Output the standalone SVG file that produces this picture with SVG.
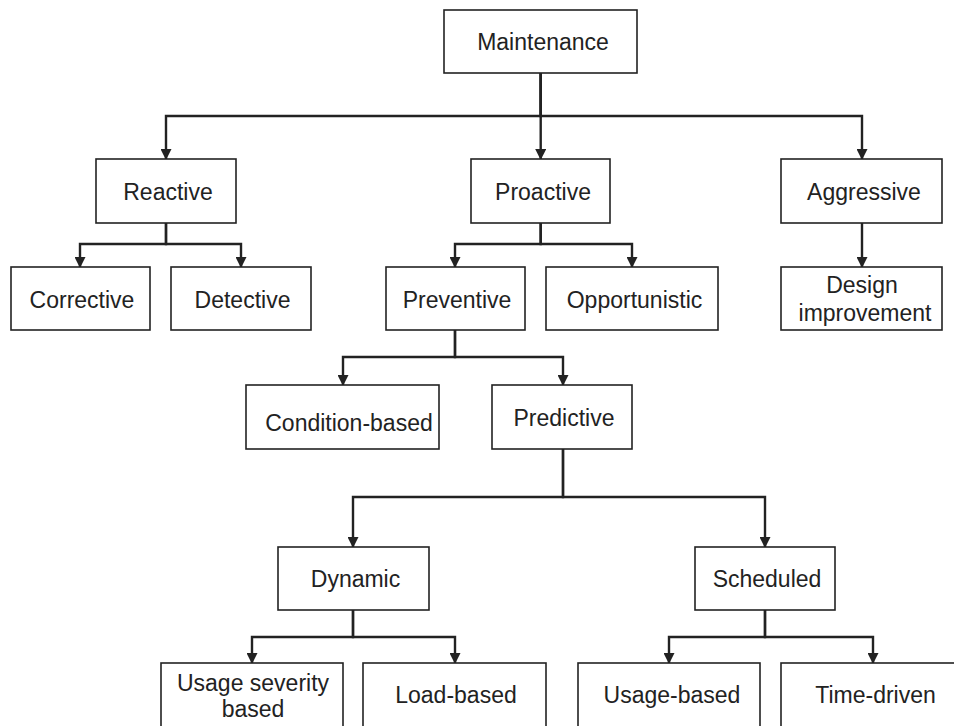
<svg xmlns="http://www.w3.org/2000/svg" width="954" height="726" viewBox="0 0 954 726">
<style>
.box rect{fill:#fff;stroke:#222;stroke-width:1.6}
.box text{font-family:"Liberation Sans",Arial,sans-serif;font-size:23px;fill:#222;text-anchor:middle}
.conn path{fill:none;stroke:#222;stroke-width:2.4;marker-end:url(#arr)}
</style>
<defs>
<marker id="arr" markerUnits="userSpaceOnUse" markerWidth="11" markerHeight="11" viewBox="0 -5.5 11 11" refX="10" refY="0" orient="auto">
<path d="M0,-5.5 L11,0 L0,5.5 z" fill="#222"/>
</marker>
</defs>
<rect width="954" height="726" fill="#fff"/>
<g class="conn">
<path d="M540.7,73 V116 H166 V159"/>
<path d="M540.7,73 V159"/>
<path d="M540.7,73 V116 H862 V159"/>
<path d="M166,223 V244 H80 V267"/>
<path d="M166,223 V244 H241 V267"/>
<path d="M540.7,223 V244 H455 V267"/>
<path d="M540.7,223 V244 H632 V267"/>
<path d="M862,223 V267"/>
<path d="M455,330 V357 H343 V385"/>
<path d="M455,330 V357 H563 V385"/>
<path d="M563,449 V497 H353 V547"/>
<path d="M563,449 V497 H765 V547"/>
<path d="M353,610 V637 H252 V663"/>
<path d="M353,610 V637 H455 V663"/>
<path d="M765,610 V637 H669 V663"/>
<path d="M765,610 V637 H873 V663"/>
</g>
<g id="maintenance" class="box"><rect x="444" y="10" width="193" height="63"/><text x="543" y="50">Maintenance</text></g>
<g id="reactive" class="box"><rect x="96" y="159" width="140" height="64"/><text x="168" y="200">Reactive</text></g>
<g id="proactive" class="box"><rect x="471" y="159" width="139" height="64"/><text x="543" y="200">Proactive</text></g>
<g id="aggressive" class="box"><rect x="781" y="159" width="161" height="64"/><text x="864" y="200">Aggressive</text></g>
<g id="corrective" class="box"><rect x="11" y="267" width="139" height="63"/><text x="82" y="308">Corrective</text></g>
<g id="detective" class="box"><rect x="171" y="267" width="140" height="63"/><text x="242.5" y="308">Detective</text></g>
<g id="preventive" class="box"><rect x="386" y="267" width="139" height="63"/><text x="457" y="308">Preventive</text></g>
<g id="opportunistic" class="box"><rect x="546" y="267" width="172" height="63"/><text x="634.5" y="308">Opportunistic</text></g>
<g id="design" class="box"><rect x="781" y="267" width="161" height="63"/><text x="862" y="293">Design</text><text x="865" y="321">improvement</text></g>
<g id="condition" class="box"><rect x="246" y="385" width="193" height="64"/><text x="349" y="431">Condition-based</text></g>
<g id="predictive" class="box"><rect x="492" y="385" width="140" height="64"/><text x="564" y="426">Predictive</text></g>
<g id="dynamic" class="box"><rect x="278" y="547" width="151" height="63"/><text x="355.5" y="587">Dynamic</text></g>
<g id="scheduled" class="box"><rect x="695" y="547" width="140" height="63"/><text x="767" y="587">Scheduled</text></g>
<g id="usage-severity" class="box"><rect x="161" y="663" width="182" height="70"/><text x="253" y="691">Usage severity</text><text x="253" y="717">based</text></g>
<g id="load" class="box"><rect x="363" y="663" width="183" height="70"/><text x="456" y="703">Load-based</text></g>
<g id="usage" class="box"><rect x="578" y="663" width="182" height="70"/><text x="672" y="703">Usage-based</text></g>
<g id="time" class="box"><rect x="781" y="663" width="180" height="70"/><text x="875.5" y="703">Time-driven</text></g>
</svg>
